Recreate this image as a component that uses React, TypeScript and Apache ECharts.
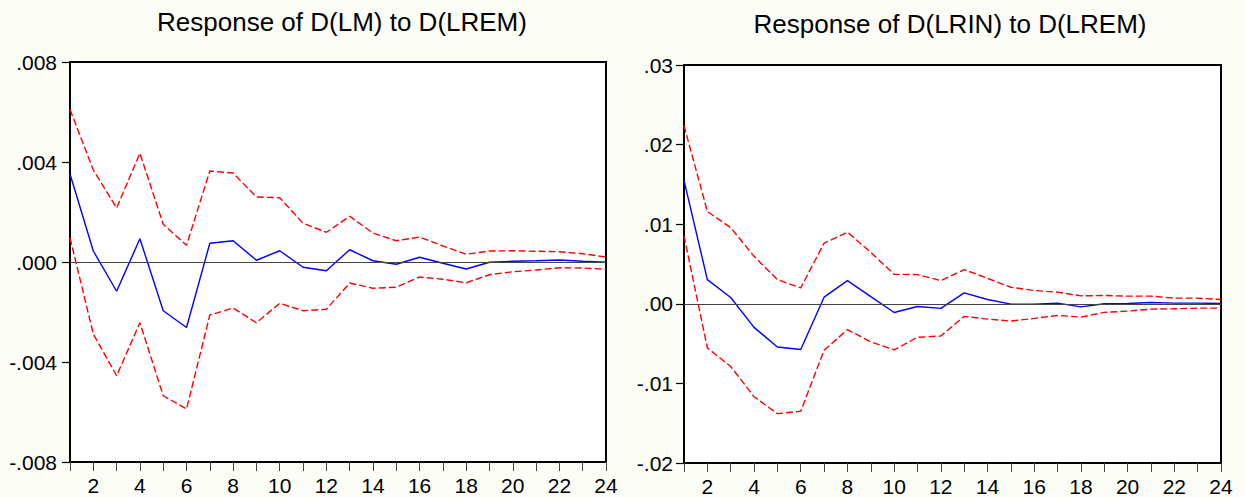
import React, { useEffect, useRef } from "react";
import * as echarts from "echarts";

const periods = [1, 2, 3, 4, 5, 6, 7, 8, 9, 10, 11, 12, 13, 14, 15, 16, 17, 18, 19, 20, 21, 22, 23, 24];

const titleLeft = "Response of D(LM) to D(LREM)";
const titleRight = "Response of D(LRIN) to D(LREM)";

const lmResponse = [0.00352, 0.00044, -0.00117, 0.00093, -0.00195, -0.00262, 0.00075, 0.00085, 0.00007, 0.00045, -0.00021, -0.00035, 0.00049, 0.00005, -0.00009, 0.00019, -0.00005, -0.00028, -0.00001, 0.00003, 0.00005, 0.00008, 0.00003, -0.00001];
const lmUpper = [0.0061, 0.00368, 0.00216, 0.00435, 0.00151, 0.00067, 0.00364, 0.00356, 0.0026, 0.00257, 0.00155, 0.00119, 0.00183, 0.00116, 0.00085, 0.001, 0.00064, 0.00031, 0.00044, 0.00045, 0.00043, 0.00041, 0.00033, 0.0002];
const lmLower = [0.00097, -0.00288, -0.00455, -0.00243, -0.00535, -0.00588, -0.00212, -0.00184, -0.00243, -0.00165, -0.00195, -0.00189, -0.00084, -0.00105, -0.00101, -0.0006, -0.00069, -0.00083, -0.00051, -0.00039, -0.00032, -0.00023, -0.00024, -0.00029];

const lrinResponse = [0.0155, 0.00304, 0.00079, -0.00296, -0.00542, -0.00575, 0.00083, 0.00292, 0.0009, -0.00109, -0.00034, -0.00058, 0.00137, 0.00054, -0.00004, -0.00004, 0.00008, -0.00038, 0, 0.00004, 0.00017, 0.00008, 0.00008, 0.00004];
const lrinUpper = [0.0224, 0.0116, 0.00958, 0.00596, 0.00304, 0.002, 0.00762, 0.009, 0.00646, 0.00371, 0.00367, 0.00292, 0.00429, 0.0032, 0.00208, 0.00167, 0.00146, 0.001, 0.00104, 0.00096, 0.00096, 0.00071, 0.00071, 0.00054];
const lrinLower = [0.00854, -0.00554, -0.00788, -0.01167, -0.0138, -0.0135, -0.00583, -0.00325, -0.00479, -0.00579, -0.00421, -0.00404, -0.00158, -0.00192, -0.00217, -0.00183, -0.00146, -0.00167, -0.00108, -0.00092, -0.00067, -0.00063, -0.00054, -0.00054];

const FONT = "'Liberation Sans', Arial, Helvetica, sans-serif";

const pairs = (vals: number[]) => periods.map((p, i) => [p, vals[i]]);

const fmt = (decimals: number) => (v: number) => {
  if (Math.abs(v) < 1e-12) v = 0;
  const s = v.toFixed(decimals);
  return s.replace(/^(-?)0\./, "$1.");
};

export default function App() {
  const ref = useRef<HTMLDivElement>(null);
  useEffect(() => {
    document.body.style.margin = "0";
    document.body.style.background = "#fdfdf8";
    const chart = echarts.init(ref.current!, null, { renderer: "svg" });

    const xAxisBase = (gridIndex: number) => ({
      type: "value" as const,
      gridIndex,
      min: 1,
      max: 24,
      interval: 1,
      axisLine: { show: true, onZero: false, lineStyle: { color: "#000", width: 2 } },
      axisTick: { show: true, inside: false, length: 9, lineStyle: { color: "#444", width: 1 } },
      axisLabel: {
        show: true,
        margin: 13,
        fontSize: 21,
        color: "#000",
        fontFamily: FONT,
        formatter: (v: number) => (v % 2 === 0 ? String(v) : ""),
        showMinLabel: true,
        showMaxLabel: true,
        hideOverlap: false,
      },
      splitLine: { show: false },
    });

    const yAxisBase = (gridIndex: number, min: number, max: number, interval: number, dec: number, margin: number) => ({
      type: "value" as const,
      gridIndex,
      min,
      max,
      interval,
      axisLine: { show: true, onZero: false, lineStyle: { color: "#000", width: 2 } },
      axisTick: { show: true, inside: false, length: 8, lineStyle: { color: "#000", width: 1.2 } },
      axisLabel: {
        margin,
        fontSize: 21,
        color: "#000",
        fontFamily: FONT,
        formatter: fmt(dec),
      },
      splitLine: { show: false },
    });

    const zeroLine = {
      silent: true,
      symbol: ["none", "none"],
      label: { show: false },
      lineStyle: { color: "#444", width: 1, type: "solid" as const },
      data: [{ yAxis: 0 }],
    };

    const blue = (name: string, vals: number[], idx: number) => ({
      name,
      type: "line" as const,
      xAxisIndex: idx,
      yAxisIndex: idx,
      data: pairs(vals),
      showSymbol: false,
      symbol: "none",
      lineStyle: { color: "#0000ff", width: 1.4 },
      markLine: zeroLine,
      z: 3,
    });
    const red = (name: string, vals: number[], idx: number) => ({
      name,
      type: "line" as const,
      xAxisIndex: idx,
      yAxisIndex: idx,
      data: pairs(vals),
      showSymbol: false,
      symbol: "none",
      lineStyle: { color: "#ff0000", width: 1.4, type: [7, 3] as any },
      z: 2,
    });

    chart.setOption({
      animation: false,
      backgroundColor: "#fdfdf8",
      graphic: [
        {
          type: "text",
          x: 342,
          y: 22,
          style: { text: titleLeft, fontSize: 26, fontFamily: FONT, fill: "#000", align: "center", verticalAlign: "middle" },
        },
        {
          type: "text",
          x: 950,
          y: 24,
          style: { text: titleRight, fontSize: 26, fontFamily: FONT, fill: "#000", align: "center", verticalAlign: "middle" },
        },
      ],
      grid: [
        { left: 70, top: 62, width: 536, height: 400, show: true, backgroundColor: "#ffffff", borderColor: "#000", borderWidth: 2 },
        { left: 684, top: 65, width: 537, height: 400, show: true, backgroundColor: "#ffffff", borderColor: "#000", borderWidth: 2 },
      ],
      xAxis: [xAxisBase(0), xAxisBase(1)],
      yAxis: [
        yAxisBase(0, -0.008, 0.008, 0.004, 3, 13),
        yAxisBase(1, -0.02, 0.03, 0.01, 2, 11),
      ],
      series: [
        blue("D(LM) response", lmResponse, 0),
        red("D(LM) upper", lmUpper, 0),
        red("D(LM) lower", lmLower, 0),
        blue("D(LRIN) response", lrinResponse, 1),
        red("D(LRIN) upper", lrinUpper, 1),
        red("D(LRIN) lower", lrinLower, 1),
      ],
    });
    return () => chart.dispose();
  }, []);
  return <div ref={ref} style={{ width: 1245, height: 497 }} />;
}
